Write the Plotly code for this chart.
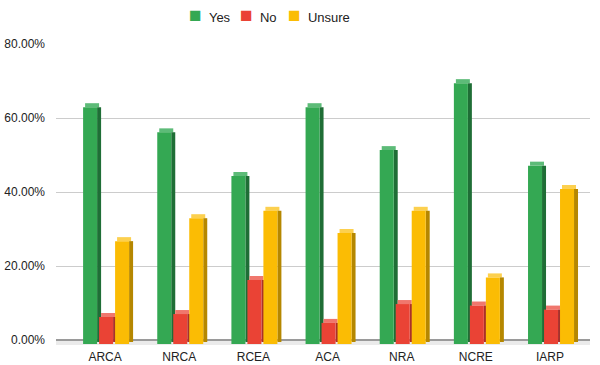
import plotly.graph_objects as go

categories = ["ARCA", "NRCA", "RCEA", "ACA", "NRA", "NCRE", "IARP"]
yes_vals = [64.0, 57.2, 45.4, 64.0, 52.4, 70.5, 48.2]
no_vals = [7.3, 8.1, 17.3, 5.7, 10.8, 10.4, 9.3]
unsure_vals = [27.8, 34.0, 36.0, 30.0, 36.0, 18.0, 41.9]
tick_vals_pct = [0, 20, 40, 60, 80]

series = [
    ("Yes", yes_vals, "#34A853", "#1f6e36", "#5dbb78", -0.2966),
    ("No", no_vals, "#EA4335", "#a9302a", "#f0776d", -0.0809),
    ("Unsure", unsure_vals, "#FBBC04", "#b58700", "#fcd04f", 0.1348),
]
legend_x = [0.2472, 0.3427, 0.4326]  # paper positions of legend entries

W = 0.1888   # front face width (x units)
DX = 0.0539  # depth shift in x
D = 0.0108   # depth shift in y (fraction)

xs = list(range(len(categories)))
fig = go.Figure()

# depth parts (caps and sides) first
for name, vals, col, dark, light, off in series:
    fr = [v / 100 for v in vals]
    fig.add_trace(go.Bar(
        x=xs, y=[D] * len(fr), base=[f - D for f in fr],
        offset=off + DX / 2, width=W, marker=dict(color=light, line=dict(width=0)),
        showlegend=False, hoverinfo="skip"))
    fig.add_trace(go.Bar(
        x=xs, y=[f - D / 2 for f in fr], base=[-D / 2] * len(fr),
        offset=off + W, width=DX, marker=dict(color=dark, line=dict(width=0)),
        showlegend=False, hoverinfo="skip"))

# front faces
for name, vals, col, dark, light, off in series:
    fr = [v / 100 for v in vals]
    fig.add_trace(go.Bar(
        x=xs, y=fr, base=[-D] * len(fr), name=name, showlegend=False,
        offset=off, width=W, marker=dict(color=col, line=dict(width=0))))

# legend entries as text
for (name, vals, col, dark, light, off), lx in zip(series, legend_x):
    fig.add_annotation(
        xref="paper", yref="paper", x=lx, y=1.097, xanchor="left", yanchor="middle",
        showarrow=False, borderpad=0,
        text=f"<span style='color:{col};font-size:21px'>■</span>&nbsp;&nbsp;{name}",
        font=dict(size=13, color="#222", family="Liberation Sans, Arial, sans-serif"))

fig.add_shape(type="rect", xref="paper", yref="y", x0=0, x1=1, y0=-0.0135, y1=0,
              fillcolor="#ebebeb", line=dict(width=0), layer="below")

fig.update_layout(
    width=600, height=365,
    margin=dict(l=56, r=10, t=44, b=20, autoexpand=False),
    barmode="overlay", showlegend=False,
    plot_bgcolor="white", paper_bgcolor="white",
    font=dict(family="Liberation Sans, Arial, sans-serif", size=12, color="#222"),
    xaxis=dict(range=[-0.662, 6.539], tickmode="array", tickvals=xs, ticktext=categories,
               showgrid=False, zeroline=False, showline=False, ticks="",
               ticklabelstandoff=3, tickfont=dict(size=12), automargin=False),
    yaxis=dict(range=[-0.0135, 0.8], tickmode="array",
               tickvals=[t / 100 for t in tick_vals_pct], tickformat=".2%",
               showgrid=True, gridcolor="#cccccc", gridwidth=1,
               zeroline=True, zerolinecolor="#9a9a9a", zerolinewidth=2,
               showline=False, ticks="", ticklabelstandoff=10, tickfont=dict(size=12),
               automargin=False),
)

fig.write_html("out.html")
